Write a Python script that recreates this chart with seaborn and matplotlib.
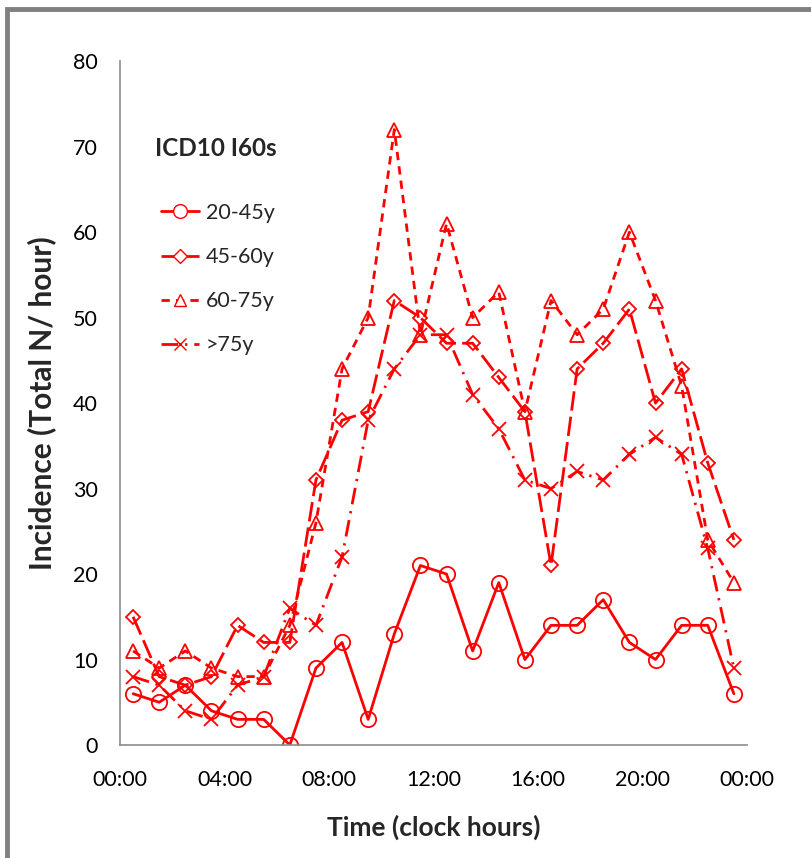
import numpy as np
import pandas as pd
import matplotlib
matplotlib.use("Agg")
import matplotlib.pyplot as plt
from matplotlib.lines import Line2D
from matplotlib.patches import Rectangle
import seaborn as sns

hours = [h + 0.5 for h in range(24)]
series_names = ["20-45y", "45-60y", "60-75y", ">75y"]
s20_45 = [6, 5, 7, 4, 3, 3, 0, 9, 12, 3, 13, 21, 20, 11, 19, 10, 14, 14, 17, 12, 10, 14, 14, 6]
s45_60 = [15, 8, 7, 8, 14, 12, 12, 31, 38, 39, 52, 50, 47, 47, 43, 39, 21, 44, 47, 51, 40, 44, 33, 24]
s60_75 = [11, 9, 11, 9, 8, 8, 14, 26, 44, 50, 72, 48, 61, 50, 53, 39, 52, 48, 51, 60, 52, 42, 24, 19]
s75 = [8, 7, 4, 3, 7, 8, 16, 14, 22, 38, 44, 48, 48, 41, 37, 31, 30, 32, 31, 34, 36, 34, 23, 9]
xtick_pos = [0, 4, 8, 12, 16, 20, 24]
xtick_labels = ["00:00", "04:00", "08:00", "12:00", "16:00", "20:00", "00:00"]

sns.set_style("white")
plt.rcParams["font.family"] = ["Lato", "DejaVu Sans"]

fig = plt.figure(figsize=(8.11, 8.58), dpi=100)
ax = fig.add_axes([0.148, 0.1317, 0.773, 0.797])

styles = {
    "20-45y": dict(marker="o", ls="-", ms=11),
    "45-60y": dict(marker="D", ls=(0, (7, 2.2)), ms=7.5),
    "60-75y": dict(marker="^", ls=(0, (3, 2.2)), ms=10),
    ">75y": dict(marker="x", ls=(0, (6, 2.5, 0.8, 2.5)), ms=10),
}
data = [s20_45, s45_60, s60_75, s75]
red = "#FF0000"
handles = []
for name, vals in zip(series_names, data):
    st = styles[name]
    df = pd.DataFrame({"hour": hours, "n": vals})
    sns.lineplot(data=df, x="hour", y="n", ax=ax, color=red, linewidth=2.0,
                 linestyle=st["ls"], marker=st["marker"], markersize=st["ms"],
                 markerfacecolor="none", markeredgecolor=red, markeredgewidth=1.3,
                 legend=False)
    handles.append(Line2D([], [], color=red, linewidth=2.0, linestyle=st["ls"],
                          marker=st["marker"], markersize=st["ms"] * 0.9,
                          markerfacecolor="white", markeredgecolor=red,
                          markeredgewidth=1.0, label=name))

ax.set_xlim(0, 24)
ax.set_ylim(0, 80)
ax.set_xticks(xtick_pos)
ax.set_xticklabels(xtick_labels)
ax.set_yticks(range(0, 81, 10))
for s in ["top", "right"]:
    ax.spines[s].set_visible(False)
for s in ["left", "bottom"]:
    ax.spines[s].set_color("#8c8c8c")
    ax.spines[s].set_linewidth(1.2)
ax.tick_params(axis="both", direction="out", length=5, width=1.2, color="#8c8c8c",
               labelsize=15.5, labelcolor="black")
ax.tick_params(axis="x", pad=13)
ax.tick_params(axis="y", pad=11)
ax.set_xlabel("Time (clock hours)", fontsize=19, fontweight="bold", labelpad=18)
ax.set_ylabel("Incidence (Total N/ hour)", fontsize=21.5, fontweight="bold", labelpad=12)

fig.text(0.191, 1 - 149 / 858, "ICD10 I60s", fontsize=17.5, fontweight="bold",
         va="center", ha="left")
leg = fig.legend(handles=handles, loc="upper left", bbox_to_anchor=(0.198, 1 - 203 / 858),
                 frameon=False, fontsize=15.5, handlelength=1.8, handletextpad=0.3,
                 labelspacing=1.12, borderaxespad=0, borderpad=0)

fig.add_artist(Rectangle((0.0085, -0.02), 1.1, 1.0 - 0.0085 + 0.02 - 0.0025,
                         transform=fig.transFigure, fill=False,
                         edgecolor="#808080", linewidth=3.5))

fig.savefig("out.png", dpi=100)
